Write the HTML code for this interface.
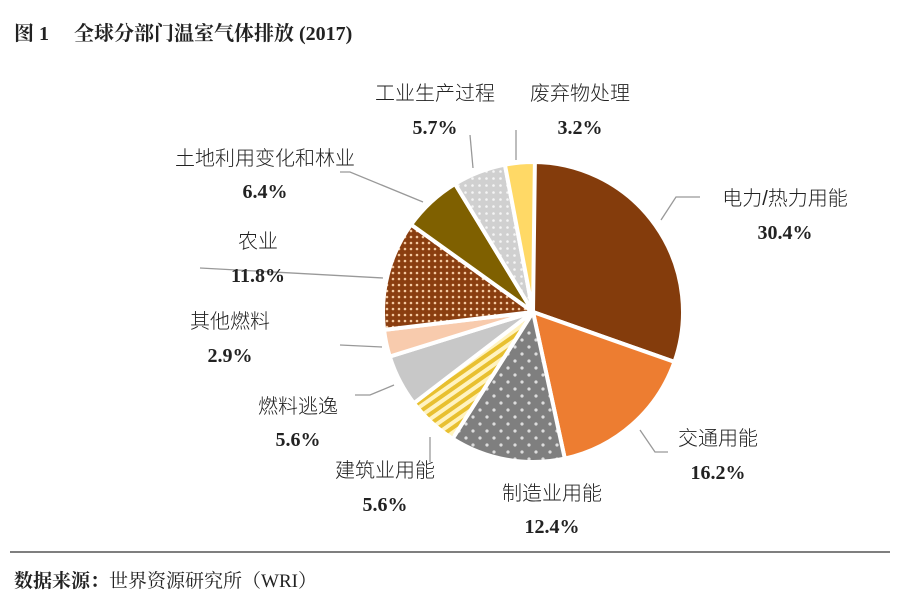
<!DOCTYPE html>
<html><head><meta charset="utf-8"><style>
body{margin:0;background:#fff;width:900px;height:608px;overflow:hidden}
svg text{font-family:"Liberation Serif","Noto Serif CJK SC","Noto Sans CJK SC",serif;fill:#222}
svg text.c{font-family:"Liberation Sans","Noto Sans CJK SC",sans-serif;font-weight:300}
</style></head><body>
<svg id="s" width="900" height="608" xmlns="http://www.w3.org/2000/svg">
<defs>
<pattern id="pg" width="14" height="14" patternUnits="userSpaceOnUse"><rect width="14" height="14" fill="#7f7f7f"/><circle cx="4" cy="4" r="1.6" fill="#ddd"/><circle cx="11" cy="11" r="1.6" fill="#ddd"/></pattern>
<pattern id="pb" width="6" height="6" patternUnits="userSpaceOnUse"><rect width="6" height="6" fill="#8a3e10"/><circle cx="3" cy="3" r="1.3" fill="#f4c9a0"/></pattern>
<pattern id="pl" width="7" height="7" patternUnits="userSpaceOnUse"><rect width="7" height="7" fill="#d0d0d0"/><circle cx="3.5" cy="3.5" r="1.3" fill="#f5f5f5"/></pattern>
<pattern id="py" width="8" height="8" patternUnits="userSpaceOnUse" patternTransform="rotate(-35)"><rect width="8" height="8" fill="#fff3c0"/><rect width="8" height="4" fill="#e8c030"/></pattern>
</defs>
<text x="14" y="40" font-size="20" font-weight="bold">图 1　 全球分部门温室气体排放  (2017)</text>
<line x1="10" y1="552" x2="890" y2="552" stroke="#555" stroke-width="1.5"/>
<text x="14" y="587" font-size="19"><tspan font-weight="bold">数据来源：</tspan>世界资源研究所（WRI）</text>
<g id="pie"></g>
<g stroke="#999" stroke-width="1.3" fill="none">
<polyline points="661,220 676,197 700,197"/>
<polyline points="640,430 655,452 668,452"/>
<polyline points="430,437 430,462"/>
<polyline points="394,385 370,395 355,395"/>
<polyline points="382,347 340,345"/>
<polyline points="383,278 200,268"/>
<polyline points="423,202 350,172 340,172"/>
<polyline points="473,168 470,135"/>
<polyline points="516,160 516,130"/>
</g>
<g font-size="20" text-anchor="middle">
<text class="c" x="435" y="100">工业生产过程</text><text x="435" y="134" font-weight="bold">5.7%</text>
<text class="c" x="580" y="100">废弃物处理</text><text x="580" y="134" font-weight="bold">3.2%</text>
<text class="c" x="265" y="165">土地利用变化和林业</text><text x="265" y="198" font-weight="bold">6.4%</text>
<text class="c" x="785" y="205">电力/热力用能</text><text x="785" y="239" font-weight="bold">30.4%</text>
<text class="c" x="258" y="248">农业</text><text x="258" y="282" font-weight="bold">11.8%</text>
<text class="c" x="230" y="328">其他燃料</text><text x="230" y="362" font-weight="bold">2.9%</text>
<text class="c" x="298" y="413">燃料逃逸</text><text x="298" y="446" font-weight="bold">5.6%</text>
<text class="c" x="385" y="477">建筑业用能</text><text x="385" y="511" font-weight="bold">5.6%</text>
<text class="c" x="552" y="500">制造业用能</text><text x="552" y="533" font-weight="bold">12.4%</text>
<text class="c" x="718" y="445">交通用能</text><text x="718" y="479" font-weight="bold">16.2%</text>
</g>
</svg>
<script>
var d=[[30.4,"#843c0c"],[16.2,"#ed7d31"],[12.4,"url(#pg)"],[5.6,"url(#py)"],[5.6,"#c8c8c8"],[2.9,"#f8cbad"],[11.8,"url(#pb)"],[6.4,"#7f6000"],[5.7,"url(#pl)"],[3.2,"#ffd966"]];
var cx=533,cy=312,r=150,a=0,g=document.getElementById("pie"),h="";
d.forEach(function(s){var a2=a+s[0]/100*2*Math.PI;
var x1=cx+r*Math.sin(a),y1=cy-r*Math.cos(a),x2=cx+r*Math.sin(a2),y2=cy-r*Math.cos(a2);
h+='<path d="M'+cx+','+cy+'L'+x1+','+y1+'A'+r+','+r+' 0 '+(a2-a>Math.PI?1:0)+' 1 '+x2+','+y2+'Z" fill="'+s[1]+'" stroke="#fff" stroke-width="4"/>';a=a2;});
g.innerHTML=h;
</script>
</body></html>
